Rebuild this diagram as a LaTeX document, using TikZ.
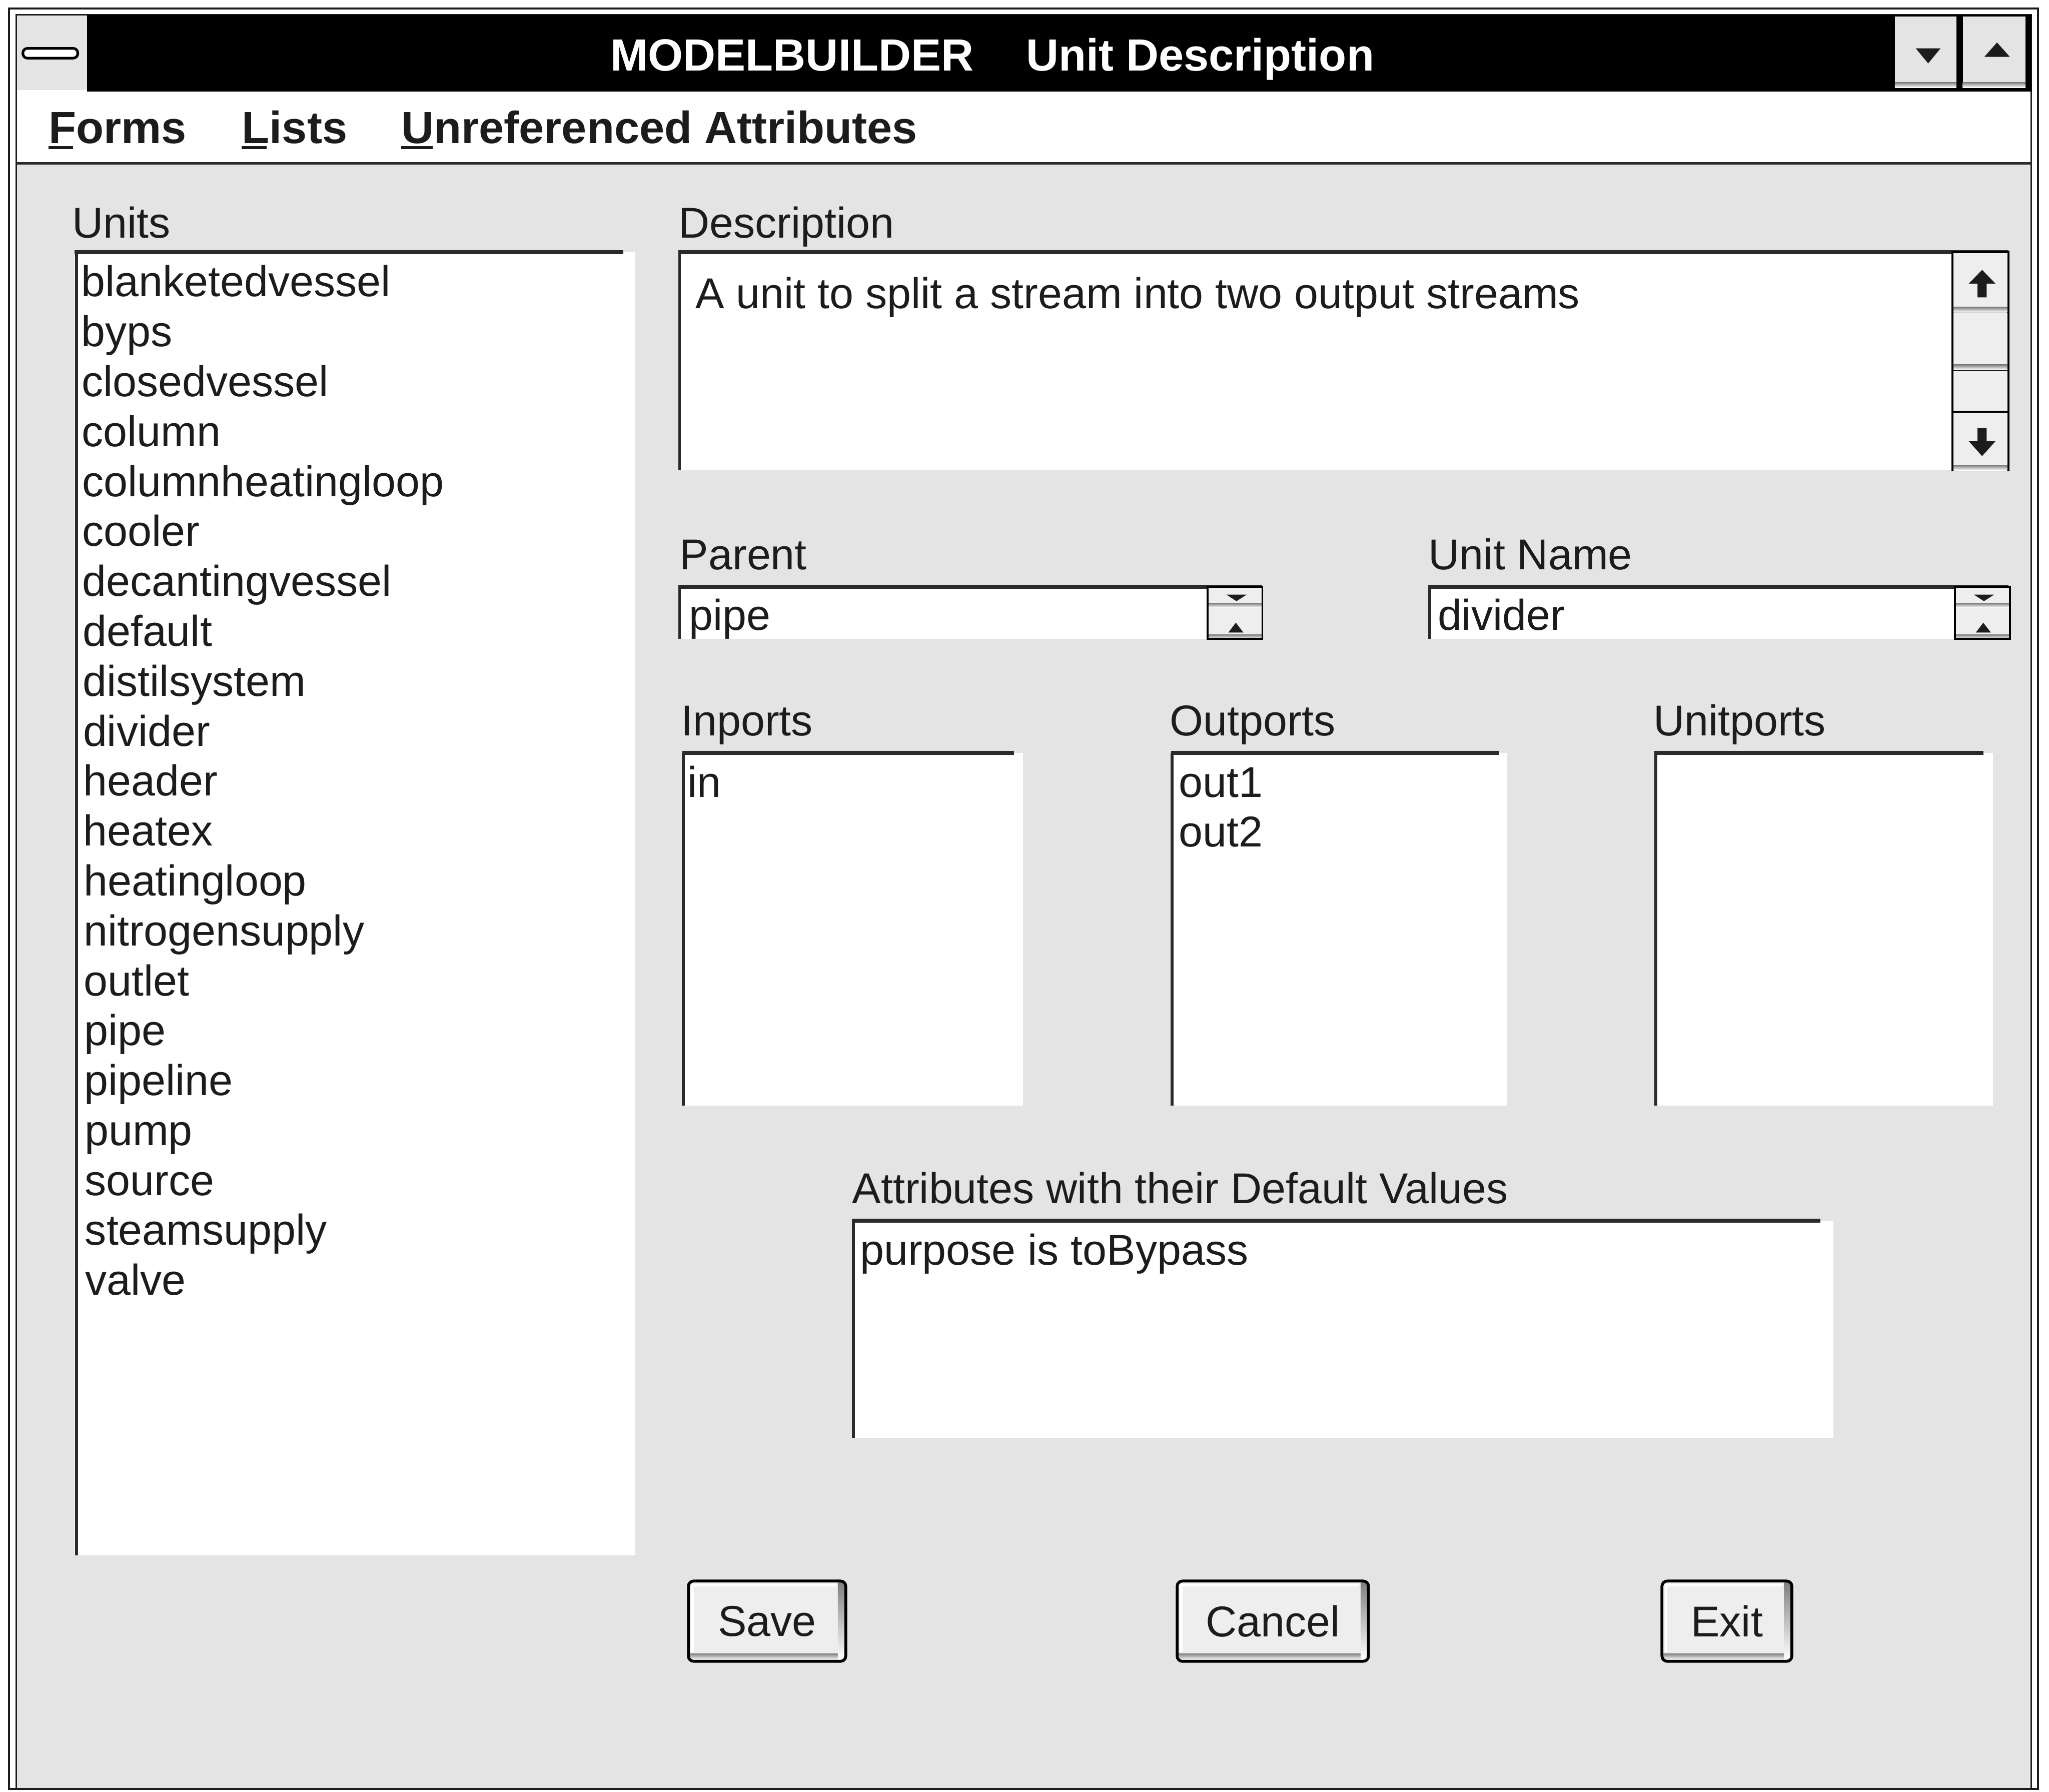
\documentclass[tikz,border=0pt]{standalone}
\usepackage{fontspec}
\setmainfont{Liberation Sans}
\begin{document}
\definecolor{ink}{HTML}{1C1C1C}
\definecolor{face}{HTML}{E4E4E4}
\definecolor{btnface}{HTML}{EEEEEE}
\definecolor{shade}{HTML}{3C3C3C}
\definecolor{edge}{HTML}{2A2A2A}
\begin{tikzpicture}[x=1pt,y=-1pt,
  txt/.style={anchor=base west,inner sep=0pt,text=ink,font=\fontsize{33}{38}\selectfont},
  menutxt/.style={anchor=base west,inner sep=0pt,text=ink,font=\bfseries\fontsize{34.5}{40}\selectfont},
  titletxt/.style={anchor=base west,inner sep=0pt,text=white,font=\bfseries\fontsize{34.5}{40}\selectfont},
  topedge/.style={edge,line width=3pt},
  leftedge/.style={edge,line width=2.2pt},
  pushbtn/.style={fill=btnface,draw=none,inner sep=0pt,minimum height=61pt,text=ink,font=\fontsize{33}{38}\selectfont},
  arrowfill/.style={fill=ink,draw=none},
  sbpart/.style={fill=btnface,draw=black,line width=1.5pt}
]
\useasboundingbox (0,0) rectangle (1568,1371);
\fill[white] (0,0) rectangle (1568,1371);

% ---------- window body and frame ----------
\fill[face] (12.5,125) rectangle (1554.5,1369);
\draw[ink,line width=1.6pt] (7,6.5) rectangle (1559.5,1369);
\draw[ink,line width=1.2pt] (12.5,1369) -- (12.5,11.5) -- (1554.5,11.5) -- (1554.5,1369);

% ---------- title bar ----------
\fill[black] (68,11.5) rectangle (1554.5,70);
\fill[face] (13,12) rectangle (67,69);
\draw[black,line width=1.5pt] (67.5,11.5) -- (67.5,70);
\draw[black,line width=2pt,fill=white,rounded corners=3.5pt] (17.5,37) rectangle (59.5,44.5);
\node[titletxt] (ttlA) at (467,54) {MODELBUILDER};
\node[titletxt] (ttlB) at (785,54) {Unit Description};
% minimize / maximize buttons
\fill[face] (1450,12.5) rectangle (1497,66);
\fill[face] (1502,12.5) rectangle (1550,66);
\fill[shade] (1450,63) rectangle (1497,67);
\fill[shade] (1502,63) rectangle (1550,67);
\fill[arrowfill] (1466,37) -- (1485,37) -- (1475.5,48.5) -- cycle;
\fill[arrowfill] (1518.5,43.5) -- (1538,43.5) -- (1528.2,32.5) -- cycle;

% ---------- menu bar ----------
\fill[white] (13,70) rectangle (1554,124);
\draw[edge,line width=2.2pt] (12.5,125) -- (1554.5,125);
\node[menutxt] (mForms) at (37,109.5) {Forms};
\node[menutxt] (mLists) at (185,109.5) {Lists};
\node[menutxt] (mUnref) at (307,109.5) {Unreferenced Attributes};
\draw[ink,line width=2.2pt] ([yshift=-3.5pt]mForms.base west) -- ++(19,0);
\draw[ink,line width=2.2pt] ([yshift=-3.5pt]mLists.base west) -- ++(19,0);
\draw[ink,line width=2.2pt] ([yshift=-3.5pt]mUnref.base west) -- ++(24,0);

% ---------- units list ----------
\node[txt] (lUnits) at (55,182) {Units};
\fill[white] (57,193) rectangle (486,1190);
\draw[topedge] (57,193) -- (477,193);
\draw[leftedge] (58.5,193) -- (58.5,1190);
\foreach \name [count=\i from 0] in {blanketedvessel,byps,closedvessel,column,columnheatingloop,cooler,decantingvessel,default,distilsystem,divider,header,heatex,heatingloop,nitrogensupply,outlet,pipe,pipeline,pump,source,steamsupply,valve}
  \node[txt] (unit\i) at ({62+0.15*\i},{227+38.2*\i}) {\name};

% ---------- description ----------
\node[txt] (lDesc) at (519,182) {Description};
\fill[white] (519,193) rectangle (1494,360);
\draw[topedge] (519,193) -- (1537,193);
\draw[leftedge] (520,193) -- (520,360);
\node[txt] (tDesc) at (532,236) {A unit to split a stream into two output streams};
% vertical scroll bar
\draw[sbpart] (1494,193) rectangle (1537,239);
\fill[face!60!white] (1494,283) rectangle (1537,315);
\draw[sbpart] (1494,239) rectangle (1537,283);
\draw[sbpart] (1494,315) rectangle (1537,360);
\draw[black,line width=1.5pt] (1494,283) -- (1494,315) (1537,283) -- (1537,315);
\fill[shade] (1495,235) rectangle (1536,239);
\fill[shade] (1495,279) rectangle (1536,283);
\fill[shade] (1495,356) rectangle (1536,360);
\fill[arrowfill] (1516.8,206.5) -- (1527,217) -- (1520.3,217) -- (1520.3,227.5) -- (1513.3,227.5) -- (1513.3,217) -- (1506.6,217) -- cycle;
\fill[arrowfill] (1516.8,349) -- (1527,337.6) -- (1520.3,337.6) -- (1520.3,327.5) -- (1513.3,327.5) -- (1513.3,337.6) -- (1506.6,337.6) -- cycle;

% ---------- parent and unit name fields ----------
\node[txt] (lParent) at (520,436) {Parent};
\fill[white] (519,449) rectangle (924,489);
\draw[topedge] (519,449) -- (966,449);
\draw[leftedge] (520,449) -- (520,489);
\node[txt] (tParent) at (527,482) {pipe};
\node[txt] (lUname) at (1093,436) {Unit Name};
\fill[white] (1093,449) rectangle (1496,489);
\draw[topedge] (1093,449) -- (1537,449);
\draw[leftedge] (1094,449) -- (1094,489);
\node[txt] (tUname) at (1100,482) {divider};
% spin buttons
\foreach \sx in {924,1496} {
  \fill[btnface] (\sx,449) rectangle (\sx+42,489);
  \fill[shade] (\sx,485.5) rectangle (\sx+42,489);
  \fill[shade] (\sx,461.5) rectangle (\sx+42,465);
  \draw[black,line width=1.5pt] (\sx,449) rectangle (\sx+42,489);
  \fill[arrowfill] (\sx+14.5,455) -- (\sx+30,455) -- (\sx+22.2,460) -- cycle;
  \fill[arrowfill] (\sx+16,484) -- (\sx+27.5,484) -- (\sx+21.7,476.5) -- cycle;
}

% ---------- port lists ----------
\node[txt] (lIn) at (521,563) {Inports};
\fill[white] (522,576) rectangle (783,846);
\draw[topedge] (522,576) -- (776,576);
\draw[leftedge] (523,576) -- (523,846);
\node[txt] (pIn) at (526,610) {in};

\node[txt] (lOut) at (895,563) {Outports};
\fill[white] (896,576) rectangle (1153,846);
\draw[topedge] (896,576) -- (1147,576);
\draw[leftedge] (897,576) -- (897,846);
\node[txt] (pOutA) at (902,610) {out1};
\node[txt] (pOutB) at (902,648) {out2};

\node[txt] (lUnitp) at (1265,563) {Unitports};
\fill[white] (1266,576) rectangle (1525,846);
\draw[topedge] (1266,576) -- (1518,576);
\draw[leftedge] (1267,576) -- (1267,846);

% ---------- attributes ----------
\node[txt] (lAttr) at (652,921) {Attributes with their Default Values};
\fill[white] (652,934) rectangle (1403,1100);
\draw[topedge] (652,934) -- (1393,934);
\draw[leftedge] (653,934) -- (653,1100);
\node[txt] (tAttr) at (658,968) {purpose is toBypass};

% ---------- push buttons ----------
\node[pushbtn,minimum width=120pt] (save) at (587,1240.5) {Save};
\node[pushbtn,minimum width=146pt] (cancel) at (974,1240.5) {Cancel};
\node[pushbtn,minimum width=99pt] (exit) at (1321.5,1240.5) {Exit};
\foreach \b in {save,cancel,exit} {
  \fill[shade] ([xshift=1pt,yshift=1pt]\b.south west) rectangle ([xshift=-1pt,yshift=6pt]\b.south east);
  \fill[shade] ([xshift=-6pt,yshift=-1pt]\b.north east) rectangle ([xshift=-1pt,yshift=1pt]\b.south east);
  \draw[white,line width=2pt] ([xshift=3pt,yshift=7pt]\b.south west) -- ([xshift=3pt,yshift=-3pt]\b.north west) -- ([xshift=-7pt,yshift=-3pt]\b.north east);
  \draw[black,line width=2.2pt,rounded corners=4pt] (\b.south west) rectangle (\b.north east);
}
\end{tikzpicture}
\end{document}
